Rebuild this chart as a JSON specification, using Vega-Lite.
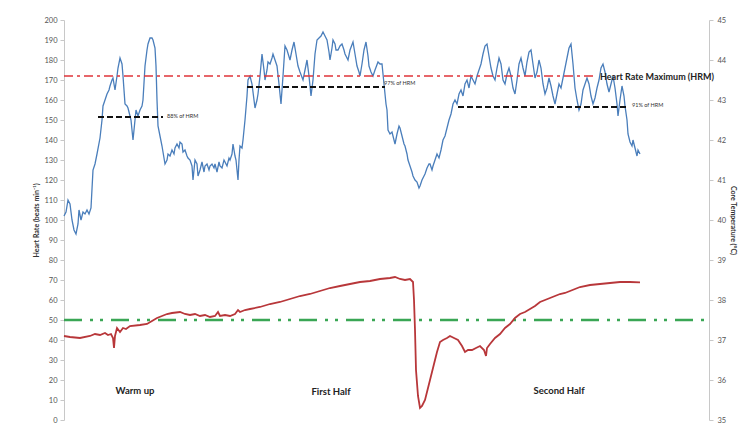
{
  "$schema": "https://vega.github.io/schema/vega-lite/v6.json",
  "width": 645,
  "height": 400,
  "autosize": "none",
  "padding": {"left": 64, "top": 20, "right": 33, "bottom": 4},
  "background": "white",
  "config": {
    "view": {"stroke": null},
    "font": "Lato",
    "axis": {"labelFont": "Lato", "titleFont": "Lato", "labelFontSize": 7.5, "labelColor": "#555", "labelOverlap": false, "domainColor": "#c8c8c8", "tickColor": "#c8c8c8", "tickSize": 4, "grid": false, "titleFontSize": 7, "titleColor": "#333", "titleFontWeight": "bold"}
  },
  "datasets": {
    "hr": [
      {"t":64,"hr":102},{"t":66,"hr":104},{"t":68,"hr":110},{"t":70,"hr":108},{"t":72,"hr":100},{"t":74,"hr":95},{"t":76,"hr":93},{"t":78,"hr":98},{"t":79,"hr":105},{"t":81,"hr":100},{"t":83,"hr":104},{"t":85,"hr":103},{"t":87,"hr":105},{"t":89,"hr":103},{"t":91,"hr":106},{"t":93,"hr":125},{"t":95,"hr":128},{"t":97,"hr":133},{"t":100,"hr":141},{"t":102,"hr":150},{"t":103,"hr":157},{"t":105,"hr":160},{"t":107,"hr":163},{"t":109,"hr":165},{"t":110,"hr":167},{"t":112,"hr":170},{"t":113,"hr":171},{"t":115,"hr":165},{"t":117,"hr":172},{"t":118,"hr":176},{"t":120,"hr":181},{"t":122,"hr":178},{"t":123,"hr":172},{"t":125,"hr":158},{"t":127,"hr":157},{"t":128,"hr":156},{"t":130,"hr":152},{"t":131,"hr":150},{"t":133,"hr":140},{"t":135,"hr":150},{"t":136,"hr":155},{"t":138,"hr":152},{"t":140,"hr":155},{"t":142,"hr":157},{"t":143,"hr":160},{"t":145,"hr":177},{"t":147,"hr":185},{"t":148,"hr":188},{"t":150,"hr":191},{"t":152,"hr":191},{"t":153,"hr":190},{"t":155,"hr":186},{"t":156,"hr":177},{"t":157,"hr":160},{"t":158,"hr":147},{"t":160,"hr":142},{"t":162,"hr":137},{"t":164,"hr":131},{"t":165,"hr":128},{"t":167,"hr":130},{"t":168,"hr":133},{"t":170,"hr":132},{"t":172,"hr":135},{"t":174,"hr":133},{"t":175,"hr":136},{"t":177,"hr":138},{"t":179,"hr":136},{"t":180,"hr":139},{"t":182,"hr":138},{"t":183,"hr":134},{"t":185,"hr":135},{"t":187,"hr":132},{"t":188,"hr":131},{"t":190,"hr":130},{"t":192,"hr":127},{"t":193,"hr":120},{"t":195,"hr":130},{"t":197,"hr":128},{"t":198,"hr":122},{"t":200,"hr":125},{"t":202,"hr":129},{"t":204,"hr":124},{"t":205,"hr":127},{"t":207,"hr":128},{"t":209,"hr":125},{"t":210,"hr":127},{"t":212,"hr":128},{"t":214,"hr":126},{"t":215,"hr":128},{"t":217,"hr":124},{"t":219,"hr":129},{"t":220,"hr":127},{"t":222,"hr":126},{"t":224,"hr":130},{"t":225,"hr":129},{"t":227,"hr":127},{"t":229,"hr":131},{"t":230,"hr":130},{"t":232,"hr":133},{"t":233,"hr":138},{"t":235,"hr":132},{"t":236,"hr":130},{"t":237,"hr":125},{"t":238,"hr":120},{"t":239,"hr":130},{"t":240,"hr":137},{"t":242,"hr":136},{"t":243,"hr":140},{"t":245,"hr":150},{"t":247,"hr":162},{"t":248,"hr":170},{"t":250,"hr":172},{"t":252,"hr":168},{"t":254,"hr":160},{"t":255,"hr":156},{"t":257,"hr":160},{"t":258,"hr":163},{"t":260,"hr":172},{"t":262,"hr":183},{"t":264,"hr":175},{"t":265,"hr":170},{"t":267,"hr":175},{"t":268,"hr":179},{"t":270,"hr":178},{"t":272,"hr":181},{"t":273,"hr":183},{"t":275,"hr":180},{"t":277,"hr":177},{"t":279,"hr":168},{"t":281,"hr":158},{"t":283,"hr":172},{"t":285,"hr":187},{"t":287,"hr":185},{"t":290,"hr":180},{"t":292,"hr":185},{"t":294,"hr":189},{"t":296,"hr":183},{"t":298,"hr":177},{"t":300,"hr":174},{"t":303,"hr":170},{"t":305,"hr":175},{"t":307,"hr":180},{"t":309,"hr":172},{"t":311,"hr":162},{"t":313,"hr":170},{"t":315,"hr":183},{"t":317,"hr":190},{"t":319,"hr":191},{"t":321,"hr":192},{"t":323,"hr":194},{"t":325,"hr":192},{"t":327,"hr":190},{"t":329,"hr":184},{"t":330,"hr":180},{"t":332,"hr":186},{"t":333,"hr":190},{"t":335,"hr":188},{"t":336,"hr":185},{"t":338,"hr":185},{"t":340,"hr":187},{"t":342,"hr":188},{"t":344,"hr":185},{"t":345,"hr":183},{"t":347,"hr":181},{"t":348,"hr":180},{"t":350,"hr":185},{"t":353,"hr":189},{"t":355,"hr":183},{"t":357,"hr":177},{"t":359,"hr":174},{"t":360,"hr":172},{"t":362,"hr":178},{"t":364,"hr":185},{"t":366,"hr":189},{"t":368,"hr":182},{"t":369,"hr":177},{"t":371,"hr":174},{"t":373,"hr":172},{"t":375,"hr":175},{"t":378,"hr":179},{"t":380,"hr":178},{"t":382,"hr":178},{"t":384,"hr":168},{"t":386,"hr":158},{"t":387,"hr":155},{"t":388,"hr":145},{"t":390,"hr":143},{"t":392,"hr":144},{"t":394,"hr":140},{"t":395,"hr":138},{"t":397,"hr":143},{"t":399,"hr":147},{"t":400,"hr":146},{"t":402,"hr":142},{"t":404,"hr":138},{"t":405,"hr":137},{"t":407,"hr":133},{"t":408,"hr":130},{"t":410,"hr":127},{"t":412,"hr":124},{"t":413,"hr":122},{"t":415,"hr":120},{"t":417,"hr":119},{"t":419,"hr":116},{"t":420,"hr":117},{"t":422,"hr":120},{"t":424,"hr":122},{"t":425,"hr":123},{"t":427,"hr":126},{"t":429,"hr":128},{"t":430,"hr":128},{"t":432,"hr":125},{"t":433,"hr":127},{"t":435,"hr":130},{"t":437,"hr":133},{"t":439,"hr":131},{"t":441,"hr":135},{"t":443,"hr":140},{"t":445,"hr":142},{"t":447,"hr":146},{"t":449,"hr":150},{"t":451,"hr":153},{"t":453,"hr":158},{"t":455,"hr":160},{"t":457,"hr":158},{"t":459,"hr":163},{"t":461,"hr":165},{"t":463,"hr":162},{"t":465,"hr":168},{"t":467,"hr":170},{"t":469,"hr":166},{"t":471,"hr":172},{"t":473,"hr":170},{"t":475,"hr":168},{"t":477,"hr":172},{"t":479,"hr":175},{"t":481,"hr":178},{"t":483,"hr":183},{"t":485,"hr":187},{"t":487,"hr":188},{"t":489,"hr":182},{"t":491,"hr":176},{"t":493,"hr":172},{"t":495,"hr":170},{"t":497,"hr":176},{"t":499,"hr":181},{"t":501,"hr":178},{"t":503,"hr":170},{"t":505,"hr":168},{"t":507,"hr":173},{"t":509,"hr":176},{"t":511,"hr":172},{"t":513,"hr":166},{"t":515,"hr":163},{"t":517,"hr":170},{"t":519,"hr":178},{"t":521,"hr":181},{"t":523,"hr":176},{"t":525,"hr":172},{"t":527,"hr":179},{"t":529,"hr":184},{"t":531,"hr":185},{"t":533,"hr":178},{"t":535,"hr":171},{"t":537,"hr":174},{"t":539,"hr":180},{"t":541,"hr":176},{"t":543,"hr":168},{"t":545,"hr":163},{"t":547,"hr":166},{"t":549,"hr":171},{"t":551,"hr":167},{"t":553,"hr":162},{"t":555,"hr":158},{"t":557,"hr":163},{"t":559,"hr":168},{"t":561,"hr":166},{"t":563,"hr":171},{"t":565,"hr":176},{"t":567,"hr":181},{"t":569,"hr":186},{"t":571,"hr":188},{"t":573,"hr":178},{"t":575,"hr":166},{"t":577,"hr":160},{"t":579,"hr":155},{"t":581,"hr":158},{"t":583,"hr":165},{"t":585,"hr":168},{"t":587,"hr":171},{"t":589,"hr":168},{"t":591,"hr":162},{"t":593,"hr":158},{"t":595,"hr":161},{"t":597,"hr":166},{"t":599,"hr":170},{"t":601,"hr":176},{"t":603,"hr":178},{"t":605,"hr":174},{"t":607,"hr":168},{"t":609,"hr":164},{"t":611,"hr":168},{"t":613,"hr":172},{"t":615,"hr":166},{"t":617,"hr":158},{"t":618,"hr":152},{"t":620,"hr":160},{"t":622,"hr":167},{"t":624,"hr":162},{"t":625,"hr":157},{"t":627,"hr":150},{"t":628,"hr":143},{"t":630,"hr":139},{"t":632,"hr":137},{"t":633,"hr":140},{"t":635,"hr":136},{"t":637,"hr":132},{"t":638,"hr":135},{"t":640,"hr":133}
    ],
    "temp": [
      {"t":64,"temp":37.1},{"t":70,"temp":37.075},{"t":80,"temp":37.05},{"t":90,"temp":37.1},{"t":95,"temp":37.15},{"t":100,"temp":37.125},{"t":105,"temp":37.175},{"t":108,"temp":37.125},{"t":111,"temp":37.15},{"t":113,"temp":37.05},{"t":114,"temp":36.8},{"t":115,"temp":37.1},{"t":117,"temp":37.3},{"t":120,"temp":37.2},{"t":123,"temp":37.3},{"t":126,"temp":37.275},{"t":130,"temp":37.35},{"t":140,"temp":37.375},{"t":147,"temp":37.4},{"t":152,"temp":37.475},{"t":157,"temp":37.55},{"t":162,"temp":37.6},{"t":167,"temp":37.65},{"t":172,"temp":37.675},{"t":180,"temp":37.7},{"t":185,"temp":37.65},{"t":190,"temp":37.625},{"t":195,"temp":37.65},{"t":200,"temp":37.6},{"t":205,"temp":37.625},{"t":210,"temp":37.575},{"t":215,"temp":37.6},{"t":218,"temp":37.7},{"t":220,"temp":37.6},{"t":225,"temp":37.625},{"t":230,"temp":37.6},{"t":235,"temp":37.65},{"t":238,"temp":37.75},{"t":240,"temp":37.7},{"t":245,"temp":37.75},{"t":250,"temp":37.775},{"t":260,"temp":37.825},{"t":270,"temp":37.9},{"t":280,"temp":37.95},{"t":290,"temp":38.025},{"t":300,"temp":38.1},{"t":310,"temp":38.15},{"t":320,"temp":38.225},{"t":330,"temp":38.3},{"t":340,"temp":38.35},{"t":350,"temp":38.4},{"t":360,"temp":38.45},{"t":370,"temp":38.475},{"t":380,"temp":38.525},{"t":390,"temp":38.55},{"t":395,"temp":38.575},{"t":400,"temp":38.525},{"t":405,"temp":38.5},{"t":410,"temp":38.525},{"t":413,"temp":38.45},{"t":414,"temp":38.0},{"t":415,"temp":37.25},{"t":416,"temp":36.25},{"t":418,"temp":35.6},{"t":420,"temp":35.3},{"t":422,"temp":35.35},{"t":425,"temp":35.5},{"t":428,"temp":35.8},{"t":431,"temp":36.1},{"t":434,"temp":36.4},{"t":437,"temp":36.7},{"t":440,"temp":36.95},{"t":443,"temp":37.0},{"t":447,"temp":37.05},{"t":450,"temp":37.1},{"t":454,"temp":37.05},{"t":458,"temp":37.0},{"t":462,"temp":36.85},{"t":465,"temp":36.7},{"t":468,"temp":36.75},{"t":472,"temp":36.75},{"t":476,"temp":36.8},{"t":480,"temp":36.85},{"t":484,"temp":36.75},{"t":486,"temp":36.6},{"t":487,"temp":36.8},{"t":490,"temp":36.9},{"t":495,"temp":37.05},{"t":500,"temp":37.15},{"t":505,"temp":37.3},{"t":510,"temp":37.4},{"t":515,"temp":37.55},{"t":520,"temp":37.65},{"t":525,"temp":37.7},{"t":530,"temp":37.775},{"t":535,"temp":37.85},{"t":540,"temp":37.95},{"t":545,"temp":38.0},{"t":550,"temp":38.05},{"t":555,"temp":38.1},{"t":560,"temp":38.15},{"t":565,"temp":38.175},{"t":570,"temp":38.225},{"t":575,"temp":38.275},{"t":580,"temp":38.325},{"t":590,"temp":38.375},{"t":600,"temp":38.4},{"t":610,"temp":38.425},{"t":620,"temp":38.45},{"t":630,"temp":38.45},{"t":640,"temp":38.44}
    ],
    "hrm": [{"t0":64,"t1":594,"hr":172}],
    "pct": [
      {"t0":98,"t1":163,"hr":151.5,"lx":167,"ly":152,"label":"88% of HRM"},
      {"t0":247,"t1":385,"hr":166.5,"lx":384,"ly":168.5,"label":"97% of HRM"},
      {"t0":458,"t1":627,"hr":156.5,"lx":632,"ly":157.5,"label":"91% of HRM"}
    ],
    "phases": [
      {"t":135,"hr":14.5,"label":"Warm up"},
      {"t":331,"hr":14,"label":"First Half"},
      {"t":559,"hr":14.5,"label":"Second Half"}
    ],
    "hrmlabel": [{"t":600,"hr":172,"label":"Heart Rate  Maximum (HRM)"}],
    "green": [{"t0":64,"t1":709,"temp":37.5}]
  },
  "layer": [
    {
      "layer": [
        {
          "data": {"name": "hr"},
          "mark": {"type": "line", "color": "#4a7ebb", "strokeWidth": 1.3, "interpolate": "linear"},
          "encoding": {
            "x": {"field": "t", "type": "quantitative", "scale": {"domain": [64, 709], "nice": false, "zero": false}, "axis": null},
            "y": {"field": "hr", "type": "quantitative", "scale": {"domain": [0, 200], "nice": false}, "axis": {"orient": "left", "tickCount": 20, "labelOverlap": false, "labelBound": false, "title": "Heart Rate (beats min⁻¹)", "titlePadding": 4, "labelPadding": 3}}
          }
        },
        {
          "data": {"name": "hrm"},
          "mark": {"type": "rule", "color": "#e0343a", "strokeWidth": 1.5, "strokeDash": [9, 4, 3, 4]},
          "encoding": {
            "x": {"field": "t0", "type": "quantitative"},
            "x2": {"field": "t1"},
            "y": {"field": "hr", "type": "quantitative"}
          }
        },
        {
          "data": {"name": "pct"},
          "mark": {"type": "rule", "color": "#111", "strokeWidth": 2.2, "strokeDash": [6, 3]},
          "encoding": {
            "x": {"field": "t0", "type": "quantitative"},
            "x2": {"field": "t1"},
            "y": {"field": "hr", "type": "quantitative"}
          }
        },
        {
          "data": {"name": "pct"},
          "mark": {"type": "text", "align": "left", "baseline": "middle", "fontSize": 5.5, "color": "#333"},
          "encoding": {
            "x": {"field": "lx", "type": "quantitative"},
            "y": {"field": "ly", "type": "quantitative"},
            "text": {"field": "label"}
          }
        },
        {
          "data": {"name": "phases"},
          "mark": {"type": "text", "align": "center", "baseline": "middle", "fontSize": 9.5, "fontWeight": "bold", "color": "#222"},
          "encoding": {
            "x": {"field": "t", "type": "quantitative"},
            "y": {"field": "hr", "type": "quantitative"},
            "text": {"field": "label"}
          }
        },
        {
          "data": {"name": "hrmlabel"},
          "mark": {"type": "text", "align": "left", "baseline": "middle", "fontSize": 9, "fontWeight": "bold", "color": "#222", "dy": 0.5},
          "encoding": {
            "x": {"field": "t", "type": "quantitative"},
            "y": {"field": "hr", "type": "quantitative"},
            "text": {"field": "label"}
          }
        }
      ]
    },
    {
      "layer": [
        {
          "data": {"name": "green"},
          "mark": {"type": "rule", "color": "#3aa655", "strokeWidth": 2.5, "strokeDash": [18, 8, 3, 7, 3, 8]},
          "encoding": {
            "x": {"field": "t0", "type": "quantitative"},
            "x2": {"field": "t1"},
            "y": {"field": "temp", "type": "quantitative"}
          }
        },
        {
          "data": {"name": "temp"},
          "mark": {"type": "line", "color": "#b8373a", "strokeWidth": 1.8},
          "encoding": {
            "x": {"field": "t", "type": "quantitative"},
            "y": {"field": "temp", "type": "quantitative", "scale": {"domain": [35, 45], "nice": false, "zero": false}, "axis": {"orient": "right", "tickCount": 10, "labelOverlap": false, "labelBound": false, "title": "Core Temperature (°C)", "titlePadding": 4, "labelPadding": 4}}
          }
        }
      ]
    }
  ],
  "resolve": {"scale": {"y": "independent"}}
}
